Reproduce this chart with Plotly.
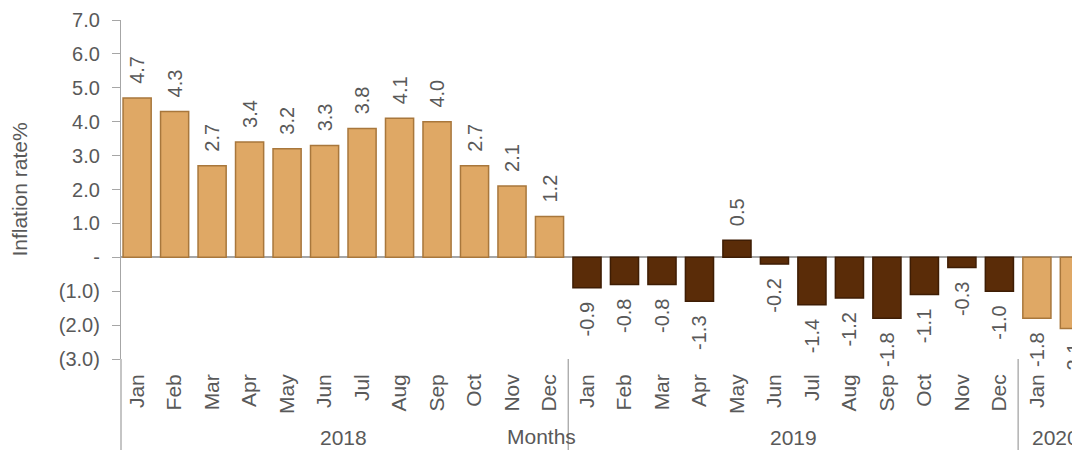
import plotly.graph_objects as go

months = ["Jan","Feb","Mar","Apr","May","Jun","Jul","Aug","Sep","Oct","Nov","Dec",
          "Jan","Feb","Mar","Apr","May","Jun","Jul","Aug","Sep","Oct","Nov","Dec",
          "Jan","Feb"]
years = ["2018"]*12 + ["2019"]*12 + ["2020"]*2
values = [4.7,4.3,2.7,3.4,3.2,3.3,3.8,4.1,4.0,2.7,2.1,1.2,
          -0.9,-0.8,-0.8,-1.3,0.5,-0.2,-1.4,-1.2,-1.8,-1.1,-0.3,-1.0,
          -1.8,-2.1]
year_labels = ["2018","2019","2020"]
y_ticks = [-3,-2,-1,0,1,2,3,4,5,6,7]
y_ticktext = ["(3.0)","(2.0)","(1.0)","-","1.0","2.0","3.0","4.0","5.0","6.0","7.0"]

GOLD = "#DFA865"
GOLD_EDGE = "#A8773C"
BROWN = "#5A2C08"
BROWN_EDGE = "#3E1D04"
colors = [BROWN if y == "2019" else GOLD for y in years]
edges = [BROWN_EDGE if y == "2019" else GOLD_EDGE for y in years]

x = list(range(len(values)))
FONT = "Liberation Sans, Arial, sans-serif"
GREY = "#595959"
NB = "\u00a0"
labels = [(NB*2 + f"{v:.1f}") if v >= 0 else (f"{v:.1f}" + NB*2) for v in values]

fig = go.Figure()
fig.add_trace(go.Bar(
    x=x, y=values,
    marker=dict(color=colors, line=dict(color=edges, width=1.5)),
    text=labels,
    textposition="outside", textangle=-90,
    textfont=dict(family=FONT, size=20, color=GREY),
    constraintext="none", cliponaxis=False,
    width=0.75, hoverinfo="skip",
))

# year group labels
for yl in year_labels:
    idx = [i for i, y in enumerate(years) if y == yl]
    fig.add_annotation(x=(idx[0] + idx[-1]) / 2, xref="x", y=-0.233, yref="paper",
                       text=yl, showarrow=False,
                       font=dict(family=FONT, size=21, color=GREY), yanchor="middle")

# group dividers
for b in [11.5, 23.5]:
    fig.add_shape(type="line", xref="x", yref="paper", x0=b, x1=b, y0=0, y1=-0.27,
                  line=dict(color="#A6A6A6", width=1.3))
fig.add_shape(type="line", xref="paper", yref="paper", x0=0, x1=0, y0=0, y1=-0.27,
              line=dict(color="#A6A6A6", width=1.3))

fig.add_annotation(x=0.438, xref="paper", y=-0.228, yref="paper", text="Months",
                   showarrow=False, font=dict(family=FONT, size=21, color=GREY),
                   yanchor="middle")

fig.update_layout(
    width=1072, height=442,
    margin=dict(l=113, r=0, t=12, b=91),
    paper_bgcolor="white", plot_bgcolor="white",
    showlegend=False, bargap=0.25,
    font=dict(family=FONT, color=GREY),
    xaxis=dict(range=[-0.43, 25.15], tickmode="array", tickvals=x, ticktext=months,
               tickangle=-90, tickfont=dict(family=FONT, size=21, color=GREY),
               ticklabelstandoff=10,
               showgrid=False, zeroline=False, showline=False, ticks=""),
    yaxis=dict(range=[-3, 7], tickmode="array", tickvals=y_ticks, ticktext=y_ticktext,
               tickfont=dict(family=FONT, size=20, color=GREY),
               showgrid=False, zeroline=True, zerolinecolor="#A6A6A6", zerolinewidth=1.5,
               showline=True, linecolor="#A6A6A6", linewidth=1.3,
               ticks="outside", ticklen=8, tickcolor="#A6A6A6", ticklabelstandoff=8,
               title=dict(text="Inflation rate%", font=dict(family=FONT, size=21, color=GREY),
                          standoff=25)),
)

fig.write_html("out.html")
